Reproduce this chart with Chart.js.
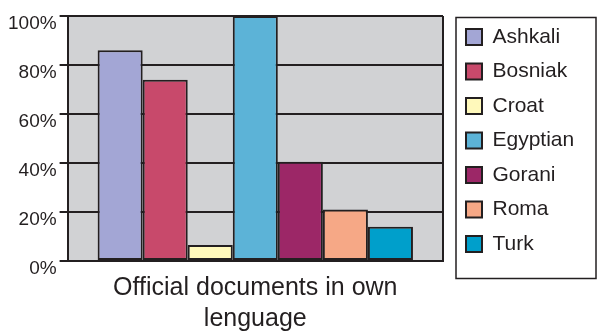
<!DOCTYPE html>
<html>
<head>
<meta charset="utf-8">
<script src="https://cdn.jsdelivr.net/npm/chart.js@4/dist/chart.umd.min.js"></script>
<style>
  html, body { margin: 0; background: #fff; }
  canvas { display: block; }
</style>
</head>
<body>
<canvas id="chart" width="597" height="332"></canvas>
<script>
// data
const categoryLines = ['Official documents in own', 'lenguage'];
const groups = ['Ashkali', 'Bosniak', 'Croat', 'Egyptian', 'Gorani', 'Roma', 'Turk'];
const shares = [86, 74, 6.5, 100, 40.5, 21, 14];
const colours = ['#a3a6d5', '#c8496b', '#fff9bb', '#5cb3d7', '#9c2767', '#f6a886', '#009fcb'];
const yTicks = [0, 20, 40, 60, 80, 100];

const ink = '#231f20';
Chart.defaults.font.family = '"Liberation Sans", Arial, Helvetica, sans-serif';
Chart.defaults.color = ink;

const LEGEND_WIDTH = 154;
const LEGEND_SHIFT = 9.5;

// grey plot background
const plotBackground = {
  id: 'plotBackground',
  beforeDraw(chart) {
    const { ctx, chartArea: a } = chart;
    ctx.save();
    ctx.fillStyle = '#d1d2d4';
    ctx.fillRect(a.left, a.top, a.right - a.left, a.bottom - a.top);
    ctx.restore();
  }
};

// move the legend a bit and put a frame round it
const legendFrame = {
  id: 'legendFrame',
  afterInit(chart) {
    const legend = chart.legend;
    const fit = legend.fit;
    legend.fit = function () {
      fit.call(this);
      this.width = LEGEND_WIDTH;
    };
  },
  afterLayout(chart) {
    const l = chart.legend;
    l.left += LEGEND_SHIFT;
    l.right += LEGEND_SHIFT;
    const dy = chart.chartArea.top - 3 - l.top;
    l.top += dy;
    l.bottom += dy;
  },
  afterDraw(chart) {
    const { ctx, chartArea: a } = chart;
    const x = a.right + 13;
    ctx.save();
    ctx.strokeStyle = ink;
    ctx.lineWidth = 1.5;
    ctx.strokeRect(x, a.top + 1.5, chart.width - 1 - x, a.bottom + 16 - a.top);
    ctx.restore();
  }
};

new Chart(document.getElementById('chart'), {
  type: 'bar',
  data: {
    labels: [categoryLines.join(' ')],
    datasets: groups.map((g, i) => ({
      label: g,
      data: [shares[i]],
      backgroundColor: colours[i],
      borderColor: ink,
      borderWidth: 2,
      borderSkipped: false,
      categoryPercentage: 0.84,
      barPercentage: 1
    }))
  },
  options: {
    responsive: false,
    animation: false,
    layout: { padding: { left: 5, top: 16, right: 0, bottom: -3 } },
    plugins: {
      tooltip: { enabled: false },
      legend: {
        position: 'right',
        align: 'start',
        labels: {
          boxWidth: 16,
          boxHeight: 16,
          padding: 13.5,
          font: { size: 21 },
          color: ink
        }
      }
    },
    scales: {
      x: {
        ticks: { display: false },
        grid: { color: ink, lineWidth: 2, drawTicks: false },
        border: { color: ink, width: 2 },
        title: {
          display: true,
          text: categoryLines,
          color: ink,
          font: { size: 25, lineHeight: 1.24 },
          padding: { top: 12, bottom: 0 }
        }
      },
      y: {
        min: 0,
        max: 100,
        afterBuildTicks: s => { s.ticks = yTicks.map(v => ({ value: v })); },
        ticks: {
          callback: v => v + '%',
          font: { size: 19 },
          color: ink,
          padding: 3,
          labelOffset: 8
        },
        grid: { color: ink, lineWidth: 2, tickLength: 8 },
        border: { color: ink, width: 2 }
      }
    }
  },
  plugins: [plotBackground, legendFrame]
});
</script>
</body>
</html>
